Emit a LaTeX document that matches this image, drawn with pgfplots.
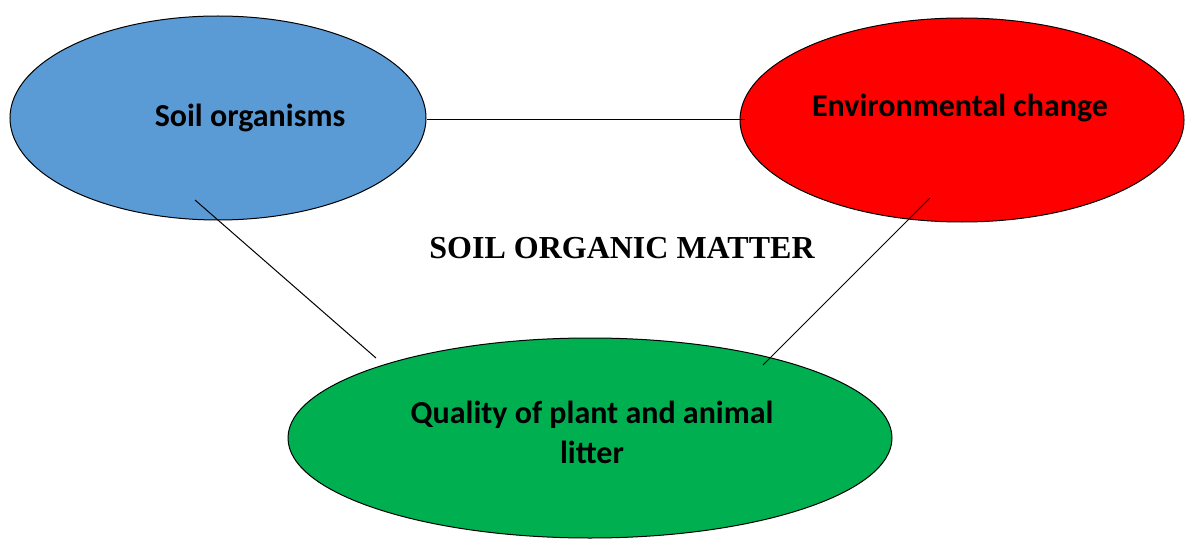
\documentclass[border=0pt]{standalone}
\usepackage{pgfplots}
\pgfplotsset{compat=1.18}
\usepackage{fontspec}
\setmainfont{Liberation Serif}
\newfontfamily\calib{Carlito}
\definecolor{orgblue}{HTML}{5B9BD5}
\definecolor{envred}{HTML}{FF0000}
\definecolor{litgreen}{HTML}{00B050}

\begin{document}
\begin{tikzpicture}
\begin{axis}[
width=1188pt,height=540pt,scale only axis,
xmin=0,xmax=1188,ymin=0,ymax=540,y dir=reverse,
hide axis,clip=false]
% ellipses
\draw[fill=orgblue,draw=black,line width=1pt] (axis cs:218,118) ellipse [x radius=208, y radius=102];
\draw[fill=envred,draw=black,line width=1pt] (axis cs:962,120) ellipse [x radius=222, y radius=102];
\draw[fill=litgreen,draw=black,line width=1pt] (axis cs:590,438) ellipse [x radius=302, y radius=100];
% connecting lines, drawn over the ellipses
\addplot[black,line width=1pt] coordinates {(427,120) (745,120)};
\addplot[black,line width=1pt] coordinates {(195,200) (376,358)};
\addplot[black,line width=1pt] coordinates {(930,198) (763,365)};
% labels
\node[font=\calib\bfseries\fontsize{32}{38}\selectfont] at (axis cs:250,118) {Soil organisms};
\node[font=\calib\bfseries\fontsize{32}{38}\selectfont] at (axis cs:960,108) {Environmental change};
\node[font=\bfseries\fontsize{32}{38}\selectfont] at (axis cs:622,248) {SOIL ORGANIC MATTER};
\node[font=\calib\bfseries\fontsize{32}{40}\selectfont,align=center] at (axis cs:592,432) {Quality of plant and animal\\litter};
\end{axis}
\pgfresetboundingbox
\path[use as bounding box] (current axis.south west) rectangle (current axis.north east);
\end{tikzpicture}
\end{document}
